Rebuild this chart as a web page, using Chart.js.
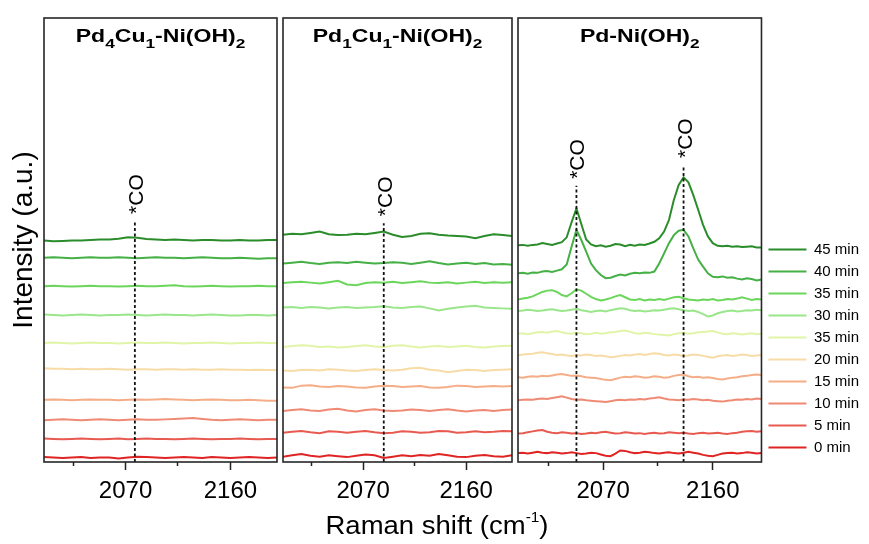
<!DOCTYPE html>
<html>
<head>
<meta charset="utf-8">
<script src="https://cdn.jsdelivr.net/npm/chart.js@4/dist/chart.umd.min.js"></script>
<style>
  html, body { margin: 0; padding: 0; background: #fff; }
  #wrap { position: relative; width: 869px; height: 544px; }
  #wrap canvas { position: absolute; left: 0; top: 0; }
</style>
</head>
<body>
<div id="wrap">
  <canvas id="c1" width="869" height="544"></canvas>
  <canvas id="c2" width="869" height="544"></canvas>
  <canvas id="c3" width="869" height="544"></canvas>
</div>
<script>
const FONT = "'Liberation Sans', Arial, sans-serif";
Chart.defaults.font.family = FONT;
Chart.defaults.color = '#000';

// legend text and colours, bottom trace first
const timeLabels = ['0 min', '5 min', '10 min', '15 min', '20 min', '35 min', '30 min', '35 min', '40 min', '45 min'];
const lineColors = ['#e02424', '#e85a50', '#ef8a74', '#f5ad88', '#f8dca8', '#e0f5a8', '#9ae68a', '#6cd65c', '#45b045', '#2a8c2a'];

const tickValues = [2025, 2070, 2115, 2160];
const labeledTicks = [2070, 2160];

// Raman shift grids (cm-1)
const shiftCoarse = [2000, 2008, 2016, 2024, 2032, 2040, 2048, 2056, 2064, 2072, 2080, 2088, 2096,
  2104, 2112, 2120, 2128, 2136, 2144, 2152, 2160, 2168, 2176, 2184, 2192, 2200];
const shiftFine = [2000, 2004, 2008, 2012, 2016, 2020, 2024, 2028, 2032, 2036, 2040, 2044, 2048, 2052,
  2056, 2060, 2064, 2068, 2072, 2076, 2080, 2084, 2088, 2092, 2096, 2100, 2104, 2108, 2112, 2116,
  2120, 2124, 2128, 2132, 2136, 2140, 2144, 2148, 2152, 2156, 2160, 2164, 2168, 2172, 2176, 2180,
  2184, 2188, 2192, 2196, 2200];

// stacked spectra (offset intensities), 0 min ... 45 min
const pd4cu1Spectra = [
  [1.1, 1.0, 0.9, 1.0, 1.1, 0.9, 1.0, 1.0, 0.8, 1.0, 1.2, 1.1, 1.0, 0.9, 1.0, 1.1, 1.0, 0.9, 1.1, 1.0, 0.9, 1.0, 1.1, 1.0, 0.9, 1.0],
  [5.3, 5.2, 5.1, 5.2, 5.3, 5.2, 5.1, 5.2, 5.3, 5.1, 5.2, 5.3, 5.2, 5.2, 5.1, 5.2, 5.3, 5.2, 5.1, 5.2, 5.2, 5.3, 5.2, 5.1, 5.2, 5.2],
  [9.4, 9.5, 9.6, 9.5, 9.4, 9.5, 9.6, 9.5, 9.4, 9.5, 9.6, 9.5, 9.5, 9.6, 9.7, 9.8, 9.9, 9.7, 9.5, 9.4, 9.5, 9.6, 9.5, 9.4, 9.5, 9.5],
  [14.0, 14.1, 14.0, 13.9, 14.0, 14.1, 14.0, 14.0, 13.9, 14.0, 14.1, 14.0, 14.1, 14.2, 14.1, 14.0, 13.9, 14.0, 14.1, 14.0, 13.9, 13.9, 14.0, 13.9, 13.8, 13.8],
  [21.1, 21.0, 21.0, 20.9, 21.0, 20.9, 20.9, 21.0, 20.9, 20.8, 20.9, 20.9, 20.8, 20.9, 20.9, 20.8, 20.9, 20.8, 20.8, 20.9, 20.8, 20.8, 20.7, 20.8, 20.7, 20.7],
  [26.8, 26.9, 26.8, 26.7, 26.8, 26.9, 26.8, 26.8, 26.7, 26.8, 26.9, 26.8, 26.8, 26.9, 26.8, 26.7, 26.8, 26.8, 26.9, 26.8, 26.7, 26.8, 26.8, 26.9, 26.8, 26.8],
  [33.2, 33.1, 33.0, 33.1, 33.2, 33.1, 33.0, 33.1, 33.1, 33.2, 33.1, 33.0, 33.1, 33.2, 33.1, 33.1, 33.0, 33.1, 33.2, 33.1, 33.0, 33.0, 33.1, 33.1, 33.0, 33.1],
  [39.6, 39.7, 39.6, 39.5, 39.6, 39.7, 39.6, 39.6, 39.5, 39.6, 39.7, 39.6, 39.6, 39.7, 39.8, 39.6, 39.5, 39.6, 39.7, 39.6, 39.5, 39.6, 39.6, 39.7, 39.6, 39.6],
  [46.0, 46.1, 46.0, 45.9, 46.0, 46.1, 46.0, 46.0, 46.1, 46.0, 45.9, 46.0, 46.1, 46.0, 46.0, 45.9, 46.0, 46.1, 46.0, 45.9, 45.9, 46.0, 45.9, 45.8, 45.9, 45.9],
  [49.9, 49.7, 49.8, 49.9, 49.9, 50.0, 50.1, 50.1, 50.3, 50.6, 50.5, 50.2, 50.1, 50.0, 50.1, 50.0, 49.9, 50.0, 50.0, 49.9, 49.9, 50.0, 49.9, 49.9, 50.0, 50.0]
];

const pd1cu1Spectra = [
  [1.2, 1.5, 1.8, 1.4, 1.2, 1.5, 1.3, 1.1, 1.4, 1.7, 1.5, 0.9, 1.2, 1.5, 1.3, 1.6, 1.4, 1.8, 1.5, 1.2, 1.1, 1.4, 1.6, 1.3, 1.2, 1.5],
  [6.6, 6.8, 7.0, 6.7, 6.5, 6.9, 6.8, 6.6, 6.8, 7.0, 6.7, 6.5, 6.6, 6.9, 6.8, 6.6, 6.7, 7.0, 6.9, 6.6, 6.7, 6.9, 6.7, 6.8, 7.0, 6.9],
  [11.5, 11.7, 11.9, 11.6, 11.5, 11.8, 12.0, 11.6, 11.4, 11.7, 11.9, 11.6, 11.5, 11.6, 11.8, 11.7, 11.5, 11.7, 11.9, 11.6, 11.4, 11.6, 11.7, 11.5, 11.7, 11.8],
  [16.8, 16.7, 17.2, 17.3, 17.0, 16.9, 17.1, 17.0, 16.8, 16.7, 17.0, 17.2, 17.1, 16.9, 17.0, 17.1, 16.8, 16.7, 16.9, 17.2, 17.1, 16.9, 17.0, 17.1, 17.0, 17.1],
  [20.6, 20.5, 20.7, 20.8, 20.6, 20.9, 20.8, 20.6, 20.5, 20.7, 20.9, 20.7, 20.6, 20.8, 21.1, 21.2, 20.8, 20.6, 20.2, 20.5, 20.8, 20.7, 20.5, 20.7, 20.8, 20.9],
  [25.9, 26.1, 26.3, 26.2, 25.9, 26.0, 25.8, 25.9, 26.1, 26.3, 26.0, 25.9, 26.2, 26.3, 26.0, 25.8, 26.0, 26.1, 25.9, 26.0, 26.2, 25.9, 25.8, 26.0, 26.1, 26.2],
  [34.8, 34.9, 34.7, 34.9, 34.8, 34.6, 34.8, 34.9, 34.7, 34.8, 34.9, 35.1, 34.8, 34.7, 34.9, 35.0, 34.6, 34.1, 34.5, 34.8, 35.0, 35.2, 34.8, 34.7, 34.6, 34.5],
  [40.3, 40.5, 40.6, 40.4, 40.2, 40.5, 40.8, 40.0, 39.8, 40.3, 40.5, 40.4, 40.6, 40.3, 40.5, 40.7, 40.4, 40.3, 40.5, 40.2, 40.4, 40.6, 40.3, 40.5, 40.4, 40.5],
  [44.7, 44.9, 45.1, 44.8, 44.6, 44.9, 45.0, 44.8, 45.1, 44.9, 44.7, 44.8, 45.0, 44.9, 44.6, 44.9, 45.2, 44.8, 44.5, 44.7, 44.9, 44.6, 44.8, 44.5, 44.6, 44.4],
  [51.2, 51.4, 51.3, 51.6, 51.9, 51.3, 51.1, 51.2, 51.4, 51.3, 51.6, 51.9, 51.2, 50.7, 50.9, 51.4, 51.5, 51.2, 51.0, 50.9, 50.8, 50.4, 50.9, 51.3, 51.1, 50.9]
];

const pdSpectra = [
  [2.0, 2.1, 1.9, 2.1, 2.3, 2.1, 2.0, 2.2, 2.1, 1.9, 2.0, 2.2, 2.0, 1.8, 1.9, 2.1, 2.0, 1.7, 1.4, 1.3,
   1.9, 2.6, 2.5, 2.2, 2.0, 2.1, 2.3, 2.2, 2.0, 1.9, 2.1, 2.2, 2.0, 1.9, 2.1, 2.3, 2.1, 1.9, 1.6, 1.4,
   1.3, 1.6, 1.9, 2.0, 2.1, 1.9, 2.0, 2.2, 2.1, 1.9, 2.0],
  [6.4, 6.5, 6.7, 6.9, 7.1, 7.2, 6.8, 6.6, 6.5, 6.7, 6.6, 6.4, 6.5, 6.3, 6.4, 6.6, 6.5, 6.7, 6.8, 6.6,
   6.4, 6.5, 6.7, 6.6, 6.4, 6.5, 6.3, 6.5, 6.6, 6.4, 6.5, 6.7, 6.6, 6.5, 6.6, 6.4, 6.3, 6.5, 6.6, 6.4,
   6.5, 6.6, 6.4, 6.3, 6.5, 6.6, 6.8, 6.9, 7.0, 6.8, 6.9],
  [13.9, 14.0, 14.1, 14.0, 14.2, 14.3, 14.2, 14.4, 14.6, 14.8, 14.5, 14.2, 14.0, 14.1, 13.9, 13.8, 13.7, 13.6, 13.5, 13.7,
   13.9, 14.0, 13.9, 14.1, 14.0, 14.2, 14.1, 14.3, 14.4, 14.6, 14.3, 14.1, 14.0, 13.9, 14.1, 14.0, 14.2, 14.1, 13.9, 14.0,
   13.8, 13.7, 13.6, 13.8, 13.9, 14.1, 14.0, 14.2, 14.1, 14.3, 14.2],
  [19.1, 19.0, 19.2, 19.3, 19.2, 19.4, 19.3, 19.5, 19.7, 19.8, 19.6, 19.4, 19.5, 19.3, 19.1, 19.0, 18.9, 18.7, 18.5, 18.4,
   18.7, 19.0, 19.2, 19.1, 19.3, 19.2, 19.0, 19.1, 19.3, 19.2, 19.0, 19.1, 19.4, 19.6, 19.7, 19.3, 19.1, 19.2, 19.0, 19.1,
   18.9, 18.7, 18.6, 18.8, 19.0, 19.1, 19.3, 19.4, 19.6, 19.7, 19.6],
  [24.0, 24.2, 24.3, 24.4, 24.6, 24.7, 24.5, 24.3, 24.1, 24.2, 24.0, 23.9, 24.1, 24.0, 24.2, 24.1, 23.9, 24.0, 23.8, 23.6,
   23.7, 23.9, 24.1, 24.0, 24.2, 24.3, 24.1, 24.3, 24.5, 24.4, 24.1, 24.0, 24.2, 24.1, 23.9, 24.0, 24.2, 24.1, 23.9, 23.7,
   23.5, 23.8, 24.0, 24.1, 23.9, 24.0, 24.2, 24.1, 23.9, 24.0, 24.1],
  [28.9, 29.0, 28.8, 29.0, 29.2, 29.3, 29.1, 29.4, 29.5, 29.2, 29.0, 28.9, 29.1, 29.0, 28.8, 28.9, 29.1, 28.9, 29.0, 29.2,
   29.3, 29.5, 29.6, 29.3, 29.0, 28.9, 29.1, 29.0, 28.8, 28.7, 28.6, 28.5, 28.8, 29.0, 29.1, 28.9, 29.0, 29.2, 29.3, 29.4,
   29.5, 29.2, 28.9, 28.8, 29.0, 28.9, 28.7, 28.9, 29.0, 28.8, 28.9],
  [34.0, 34.1, 34.3, 34.2, 34.0, 34.1, 34.3, 34.4, 34.2, 34.0, 34.1, 34.3, 34.5, 34.2, 34.0, 33.8, 34.0, 34.1, 33.9, 34.2,
   34.4, 34.6, 34.5, 34.2, 34.0, 34.1, 33.9, 34.0, 34.2, 34.1, 34.3, 34.5, 34.6, 34.4, 34.2, 34.0, 34.1, 33.8, 33.3, 32.8,
   33.0, 33.5, 33.8, 34.0, 34.1, 33.9, 34.0, 34.2, 34.1, 34.3, 34.2],
  [36.6, 36.8, 37.0, 37.3, 37.8, 38.3, 38.6, 38.7, 38.3, 37.6, 37.3, 38.0, 38.9, 38.6, 37.9, 37.2, 36.7, 36.4, 36.6, 36.9,
   37.3, 37.6, 37.1, 36.6, 36.5, 36.7, 36.4, 36.6, 36.5, 36.7, 36.5, 36.8, 37.1, 37.2, 36.9, 36.6, 36.5, 36.4, 36.6, 36.5,
   36.7, 36.4, 36.5, 36.7, 36.6, 36.8, 37.1, 36.8, 36.5, 36.7, 36.6],
  [42.5, 42.6, 42.4, 42.7, 42.6, 42.9, 43.0, 42.8, 43.1, 43.4, 44.5, 48.5, 52.3, 50.0, 47.4, 44.7, 43.2, 42.1, 41.4, 41.5,
   41.9, 42.2, 42.0, 42.4, 42.6, 42.5, 42.7, 42.6, 42.9, 44.7, 47.0, 49.3, 51.1, 52.1, 52.3, 50.8, 48.1, 45.6, 44.0, 42.5,
   41.7, 41.6, 41.8, 41.5, 41.6, 41.3, 41.1, 41.4, 41.2, 40.9, 41.1],
  [48.8, 48.9, 48.7, 48.9, 49.0, 49.3, 49.1, 48.9, 49.2, 49.5, 50.6, 54.0, 57.1, 53.6, 50.1, 49.0, 48.6, 48.8, 48.5, 48.7,
   49.1, 49.0, 48.6, 48.9, 48.7, 49.0, 48.9, 49.2, 49.6, 50.4, 51.9, 54.5, 59.0, 62.4, 64.1, 63.0, 60.1, 56.8, 53.4, 50.8,
   49.3, 48.7, 48.6, 48.7, 48.5, 48.6, 48.4, 48.5, 48.6, 48.3, 48.3]
];

// *CO band positions and the height each marker line reaches
const pd4cu1CoShift = [2078];
const pd4cu1CoTop = [54.3];
const pd1cu1CoShift = [2088];
const pd1cu1CoTop = [53.8];
const pdCoShift = [2048, 2136];
const pdCoTop = [62.2, 66.9];

function spectrumSets(xs, spectra) {
  return spectra.map((ys, i) => ({
    label: timeLabels[i],
    data: xs.map((x, j) => ({ x: x, y: ys[j] })),
    borderColor: lineColors[i],
    backgroundColor: lineColors[i],
    borderWidth: 2,
    pointRadius: 0,
    tension: 0,
    order: 1
  }));
}

function coMarkerSets(shifts, tops) {
  return shifts.map((x, i) => ({
    data: [{ x: x, y: 0 }, { x: x, y: tops[i] }],
    borderColor: '#111',
    borderWidth: 1.8,
    borderDash: [3, 2.5],
    pointRadius: 0,
    order: 0,
    coMarker: true
  }));
}

// text with subscripts / superscripts, drawn centred on cx
function drawRich(ctx, parts, cx, baseY, sx) {
  let w = 0;
  parts.forEach(p => { ctx.font = p.font; w += ctx.measureText(p.t).width; });
  ctx.save();
  ctx.translate(cx - w * sx / 2, baseY);
  ctx.scale(sx, 1);
  ctx.fillStyle = '#000';
  ctx.textAlign = 'left';
  ctx.textBaseline = 'alphabetic';
  let x = 0;
  parts.forEach(p => {
    ctx.font = p.font;
    ctx.fillText(p.t, x, p.dy || 0);
    x += ctx.measureText(p.t).width;
  });
  ctx.restore();
}

const TITLE = 'bold 18px ' + FONT;
const TITLE_SUB = 'bold 13.5px ' + FONT;
const sub = t => ({ t: t, font: TITLE_SUB, dy: 6 });
const main = t => ({ t: t, font: TITLE });

// frame, panel title and *CO tags
function panelDecor(title) {
  return {
    id: 'panelDecor',
    afterDatasetsDraw(chart) {
      const { ctx, chartArea: a } = chart;
      ctx.save();
      ctx.strokeStyle = '#262626';
      ctx.lineWidth = 1.6;
      ctx.strokeRect(a.left, a.top, a.right - a.left, a.bottom - a.top);
      drawRich(ctx, title, (a.left + a.right) / 2, a.top + 24, 1.28);
      chart.data.datasets.forEach((ds, i) => {
        if (!ds.coMarker) return;
        const top = chart.getDatasetMeta(i).data[1];
        ctx.save();
        ctx.translate(top.x + 8, top.y - 7);
        ctx.rotate(-Math.PI / 2);
        ctx.font = '21px ' + FONT;
        ctx.fillStyle = '#000';
        ctx.textAlign = 'left';
        ctx.textBaseline = 'alphabetic';
        ctx.fillText('*CO', 0, 0);
        ctx.restore();
      });
      ctx.restore();
    }
  };
}

const xTitle = {
  id: 'xTitle',
  afterDraw(chart) {
    drawRich(chart.ctx, [
      { t: 'Raman shift (cm', font: '25px ' + FONT },
      { t: '-1', font: '14px ' + FONT, dy: -12 },
      { t: ')', font: '25px ' + FONT }
    ], 437, 534, 1.1);
  }
};

function xScale() {
  return {
    type: 'linear',
    min: 2000,
    max: 2200,
    afterBuildTicks: axis => { axis.ticks = tickValues.map(v => ({ value: v })); },
    afterFit: axis => { axis.height = 82; },
    border: { display: false },
    grid: {
      drawOnChartArea: false,
      drawTicks: true,
      tickLength: 8,
      tickColor: '#222',
      tickWidth: 1.5,
      tickBorderDash: c => (c.tick && labeledTicks.includes(c.tick.value)) ? [] : [4, 20]
    },
    ticks: {
      autoSkip: false,
      maxRotation: 0,
      padding: 7,
      color: '#000',
      font: { size: 24 },
      callback: v => labeledTicks.includes(v) ? String(v) : ''
    }
  };
}

function makeChart(id, datasets, padding, yOpts, legend, extraPlugins) {
  return new Chart(document.getElementById(id), {
    type: 'line',
    data: { datasets: datasets },
    options: {
      responsive: false,
      animation: false,
      devicePixelRatio: 1,
      layout: { padding: padding },
      scales: { x: xScale(), y: yOpts },
      plugins: { legend: legend, tooltip: { enabled: false } }
    },
    plugins: extraPlugins
  });
}

const hiddenY = { min: 0, max: 100, display: false };

makeChart('c1',
  spectrumSets(shiftCoarse, pd4cu1Spectra).concat(coMarkerSets(pd4cu1CoShift, pd4cu1CoTop)),
  { left: 0, right: 592, top: 18, bottom: 0 },
  {
    min: 0, max: 100,
    afterFit: axis => { axis.width = 44; },
    ticks: { display: false },
    grid: { display: false },
    border: { display: false },
    title: { display: true, text: 'Intensity (a.u.)', color: '#000', font: { size: 28 }, padding: { top: 7, bottom: 0 } }
  },
  { display: false },
  [panelDecor([main('Pd'), sub('4'), main('Cu'), sub('1'), main('-Ni(OH)'), sub('2')])]);

makeChart('c2',
  spectrumSets(shiftCoarse, pd1cu1Spectra).concat(coMarkerSets(pd1cu1CoShift, pd1cu1CoTop)),
  { left: 283, right: 357, top: 18, bottom: 0 },
  hiddenY,
  { display: false },
  [panelDecor([main('Pd'), sub('1'), main('Cu'), sub('1'), main('-Ni(OH)'), sub('2')]), xTitle]);

makeChart('c3',
  spectrumSets(shiftFine, pdSpectra).concat(coMarkerSets(pdCoShift, pdCoTop)),
  { left: 518, right: 0, top: 18, bottom: 0 },
  hiddenY,
  {
    display: true,
    position: 'right',
    align: 'end',
    fullSize: false,
    reverse: true,
    labels: {
      usePointStyle: true,
      pointStyle: 'line',
      pointStyleWidth: 38,
      padding: 7,
      color: '#000',
      font: { size: 15 },
      filter: (item, data) => !data.datasets[item.datasetIndex].coMarker
    }
  },
  [panelDecor([main('Pd-Ni(OH)'), sub('2')])]);
</script>
</body>
</html>
